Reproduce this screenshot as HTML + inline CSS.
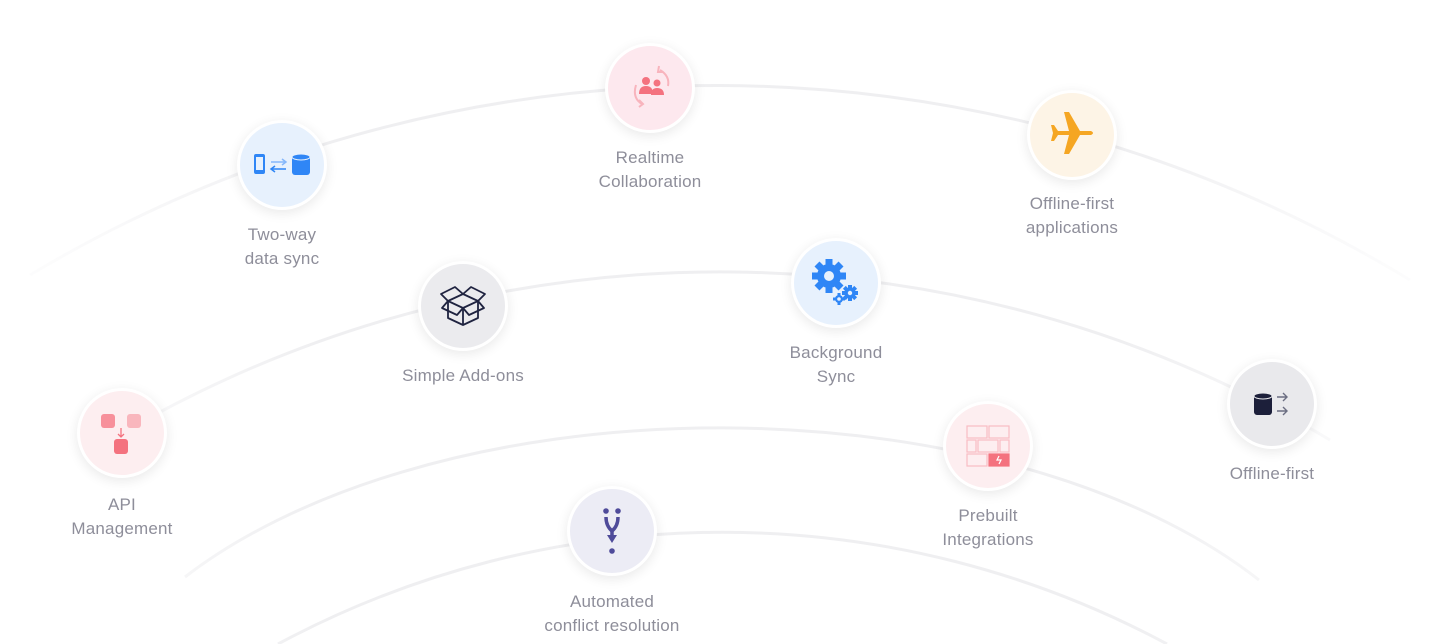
<!DOCTYPE html>
<html><head><meta charset="utf-8"><style>
html,body{margin:0;padding:0;background:#fff;width:1440px;height:644px;overflow:hidden;position:relative;font-family:"Liberation Sans",sans-serif}
.n{position:absolute;width:84px;height:84px;border-radius:50%;border:3px solid #fff;box-shadow:0 3px 12px rgba(0,0,0,0.09)}
.n svg{position:absolute;left:0;top:0}
.l{position:absolute;width:240px;text-align:center;color:#8e8e9a;font-size:17px;line-height:24px;letter-spacing:0.2px}
</style></head><body>
<svg width="1440" height="644" style="position:absolute;left:0;top:0">
<defs>
<linearGradient id="g" x1="0" x2="1440" y1="0" y2="0" gradientUnits="userSpaceOnUse">
<stop offset="0" stop-color="#f2f2f4" stop-opacity="0.1"/><stop offset="0.22" stop-color="#efeff1"/><stop offset="0.78" stop-color="#efeff1"/><stop offset="1" stop-color="#f2f2f4" stop-opacity="0.1"/></linearGradient>
</defs>
<g fill="none" stroke="url(#g)" stroke-width="3">
<path d="M30,275 A1336,1336 0 0 1 1410,280"/>
<path d="M160,412 A1190,1190 0 0 1 1330,440"/>
<path d="M185,577 A650,345 0 0 1 1259,580"/>
<path d="M278,644 A940,940 0 0 1 1167,644"/>
</g>
</svg>

<!-- Two-way data sync -->
<div class="n" style="left:237px;top:120px;background:#e7f1fd">
<svg width="84" height="84"><g transform="translate(42,42)">
<rect x="-28" y="-11" width="11" height="20" rx="2" fill="#2f86f6"/><rect x="-26" y="-8" width="7" height="13" fill="#e7f1fd"/>
<path d="M-11,-3 H4 M0,-6 L4,-3 L0,0" stroke="#86b8fb" stroke-width="1.5" fill="none"/>
<path d="M4,4 H-11 M-7,1 L-11,4 L-7,7" stroke="#2f86f6" stroke-width="1.5" fill="none"/>
<rect x="10" y="-10" width="18" height="20" rx="3" fill="#2f86f6"/><ellipse cx="19" cy="-8" rx="9" ry="3" fill="#2f86f6" stroke="#e7f1fd" stroke-width="1"/>
</g></svg></div>
<div class="l" style="left:162px;top:223px">Two-way<br>data sync</div>

<!-- Realtime -->
<div class="n" style="left:605px;top:43px;background:#fde8ee">
<svg width="84" height="84"><g transform="translate(42,42)">
<circle cx="-4" cy="-7" r="4" fill="#f4727f"/><circle cx="7" cy="-5" r="3.5" fill="#f4727f"/>
<path d="M-11,6 Q-11,-2 -4,-2 Q3,-2 3,6Z" fill="#f4727f"/><path d="M1,7 Q1,0 7,0 Q14,0 14,7Z" fill="#f4727f"/>
<path d="M10,-18 Q20,-12 18,-2" stroke="#f8b4bd" stroke-width="2" fill="none"/><path d="M9,-22 L8,-16 L13,-16" stroke="#f8b4bd" stroke-width="2" fill="none"/>
<path d="M-14,-3 Q-18,10 -8,16" stroke="#f8b4bd" stroke-width="2" fill="none"/><path d="M-11,19 L-7,16 L-11,12" stroke="#f8b4bd" stroke-width="2" fill="none"/>
</g></svg></div>
<div class="l" style="left:530px;top:146px">Realtime<br>Collaboration</div>

<!-- Offline apps -->
<div class="n" style="left:1027px;top:90px;background:#fdf4e6">
<svg width="84" height="84"><g transform="translate(42,42)">
<path d="M-8,-23 L-3,-23 L8,-4 L19,-4 Q23,-2 19,0 L8,0 L-3,19 L-8,19 L-3,0 L-14,0 L-18,6 L-21,6 L-19,-2 L-21,-10 L-18,-10 L-14,-4 L-3,-4 Z" fill="#f5a623"/>
</g></svg></div>
<div class="l" style="left:952px;top:192px">Offline-first<br>applications</div>

<!-- Simple add-ons -->
<div class="n" style="left:418px;top:261px;background:#ebebee">
<svg width="84" height="84"><g transform="translate(42,42)" fill="none" stroke="#1f2340" stroke-width="1.8" stroke-linejoin="round">
<path d="M-15,-5 L0,-12 L15,-5 L0,2 Z"/><path d="M-15,-5 V12 L0,19 L15,12 V-5"/><path d="M0,2 V19"/>
<path d="M-15,-5 L-22,-12 L-8,-19 L0,-12 L8,-19 L22,-12 L15,-5"/><path d="M-15,-5 L-21,2 L-6,9 L0,2 L6,9 L21,2 L15,-5"/>
</g></svg></div>
<div class="l" style="left:343px;top:364px">Simple Add-ons</div>

<!-- Background sync -->
<div class="n" style="left:791px;top:238px;background:#e7f1fd">
<svg width="84" height="84"><g transform="translate(42,42)">
<g transform="translate(-7,-7)"><circle r="12" fill="#2f86f6"/><g fill="#2f86f6"><rect x="-3.5" y="-17" width="7" height="34"/><rect x="-3.5" y="-17" width="7" height="34" transform="rotate(45)"/><rect x="-3.5" y="-17" width="7" height="34" transform="rotate(90)"/><rect x="-3.5" y="-17" width="7" height="34" transform="rotate(135)"/></g><circle r="5" fill="#e7f1fd"/></g>
<g transform="translate(14,10)"><circle r="5" fill="#2f86f6"/><rect x="-2" y="-8" width="4" height="16" fill="#2f86f6"/><rect x="-8" y="-2" width="16" height="4" fill="#2f86f6"/><rect x="-2" y="-8" width="4" height="16" fill="#2f86f6" transform="rotate(45)"/><rect x="-2" y="-8" width="4" height="16" fill="#2f86f6" transform="rotate(-45)"/><circle r="2.2" fill="#e7f1fd"/></g>
<g transform="translate(3,16)"><circle r="4" fill="#2f86f6"/><rect x="-1.5" y="-6" width="3" height="12" fill="#2f86f6"/><rect x="-6" y="-1.5" width="12" height="3" fill="#2f86f6"/><circle r="1.8" fill="#e7f1fd"/></g>
</g></svg></div>
<div class="l" style="left:716px;top:341px">Background<br>Sync</div>

<!-- API -->
<div class="n" style="left:77px;top:388px;background:#fdeef0">
<svg width="84" height="84"><g transform="translate(42,42)">
<rect x="-21" y="-19" width="14" height="14" rx="3" fill="#f7909b"/><rect x="5" y="-19" width="14" height="14" rx="3" fill="#f9b6bd"/>
<path d="M-1,-5 V4 M-4,1 L-1,4 L2,1" stroke="#f4727f" stroke-width="1.3" fill="none"/>
<rect x="-8" y="6" width="14" height="15" rx="3" fill="#f4727f"/>
</g></svg></div>
<div class="l" style="left:2px;top:493px">API<br>Management</div>

<!-- Offline-first -->
<div class="n" style="left:1227px;top:359px;background:#e9e9ec">
<svg width="84" height="84"><g transform="translate(42,42)">
<rect x="-18" y="-9" width="18" height="20" rx="3" fill="#1c1f3a"/><ellipse cx="-9" cy="-8" rx="9" ry="3" fill="#1c1f3a" stroke="#e9e9ec"/>
<path d="M5,-7 H15 M11,-11 L15,-7 L11,-3 M5,7 H15 M11,3 L15,7 L11,11" stroke="#6b6e82" stroke-width="1.4" fill="none"/>
</g></svg></div>
<div class="l" style="left:1152px;top:462px">Offline-first</div>

<!-- Prebuilt -->
<div class="n" style="left:943px;top:401px;background:#fdeef0">
<svg width="84" height="84"><g transform="translate(42,42)" fill="none" stroke="#f9bcc3" stroke-width="1.2">
<rect x="-21" y="-20" width="20" height="12"/><rect x="1" y="-20" width="20" height="12"/>
<rect x="-21" y="-6" width="9" height="12"/><rect x="-10" y="-6" width="20" height="12"/><rect x="12" y="-6" width="9" height="12"/>
<rect x="-21" y="8" width="20" height="12"/><rect x="1" y="8" width="20" height="12" fill="#f4727f" stroke="#f4727f"/>
<path d="M11,10 L9,14 H13 L11,18" stroke="#fff"/>
</g></svg></div>
<div class="l" style="left:868px;top:504px">Prebuilt<br>Integrations</div>

<!-- Automated -->
<div class="n" style="left:567px;top:486px;background:#ececf5">
<svg width="84" height="84"><g transform="translate(42,42)">
<circle cx="-6" cy="-20" r="2.8" fill="#4f4b9a"/><circle cx="6" cy="-20" r="2.8" fill="#4f4b9a"/>
<path d="M-6,-14 Q-6,-5 0,0 Q6,-5 6,-14" stroke="#4f4b9a" stroke-width="3.5" fill="none"/>
<path d="M0,0 V6" stroke="#4f4b9a" stroke-width="3.5"/><path d="M-5,4 H5 L0,12 Z" fill="#4f4b9a"/>
<circle cx="0" cy="20" r="2.8" fill="#4f4b9a"/>
</g></svg></div>
<div class="l" style="left:492px;top:590px">Automated<br>conflict resolution</div>
</body></html>
